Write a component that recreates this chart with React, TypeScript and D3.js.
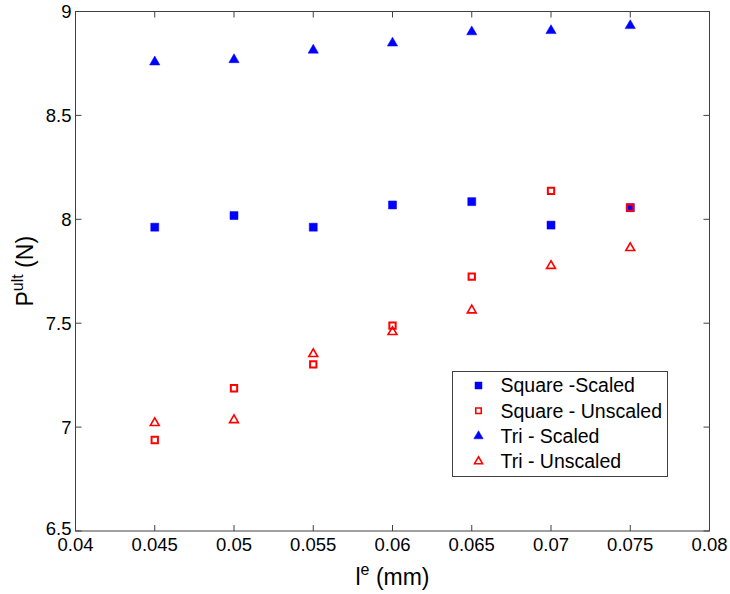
import React, { useEffect, useRef } from "react";
import * as d3 from "d3";

const lengths = [0.045, 0.05, 0.055, 0.06, 0.065, 0.07, 0.075];
const squareScaled = [7.962, 8.018, 7.962, 8.069, 8.085, 7.972, 8.056];
const squareUnscaled = [6.938, 7.187, 7.302, 7.488, 7.724, 8.137, 8.056];
const triScaled = [8.757, 8.768, 8.814, 8.848, 8.902, 8.908, 8.932];
const triUnscaled = [7.02, 7.034, 7.352, 7.458, 7.562, 7.776, 7.862];

const xTicks = [0.04, 0.045, 0.05, 0.055, 0.06, 0.065, 0.07, 0.075, 0.08];
const yTicks = [6.5, 7, 7.5, 8, 8.5, 9];

const legendItems = [
  { label: "Square -Scaled", shape: "square", color: "#0000ff", filled: true },
  { label: "Square - Unscaled", shape: "square", color: "#ff0000", filled: false },
  { label: "Tri - Scaled", shape: "tri", color: "#0000ff", filled: true },
  { label: "Tri - Unscaled", shape: "tri", color: "#ff0000", filled: false },
];

export default function App() {
  const ref = useRef<SVGSVGElement>(null);

  useEffect(() => {
    const svg = d3.select(ref.current);
    svg.selectAll("*").remove();

    const width = 730;
    const height = 594;
    const margin = { top: 11.5, right: 20.5, bottom: 63, left: 75.5 };
    const font = "Arial, 'Liberation Sans', sans-serif";

    const x = d3.scaleLinear()
      .domain([0.04, 0.08])
      .range([margin.left, width - margin.right]);
    const y = d3.scaleLinear()
      .domain([6.5, 9])
      .range([height - margin.bottom, margin.top]);

    svg.append("rect")
      .attr("width", width)
      .attr("height", height)
      .attr("fill", "white");

    // frame
    svg.append("rect")
      .attr("x", margin.left)
      .attr("y", margin.top)
      .attr("width", width - margin.right - margin.left)
      .attr("height", height - margin.bottom - margin.top)
      .attr("fill", "none")
      .attr("stroke", "#404040")
      .attr("stroke-width", 1);

    // ticks, pointing inward on all four sides
    const tl = 6;
    const g = svg.append("g").attr("stroke", "#404040").attr("stroke-width", 1);
    xTicks.forEach(t => {
      g.append("line").attr("x1", x(t)).attr("x2", x(t))
        .attr("y1", y(6.5)).attr("y2", y(6.5) - tl);
      g.append("line").attr("x1", x(t)).attr("x2", x(t))
        .attr("y1", y(9)).attr("y2", y(9) + tl);
    });
    yTicks.forEach(t => {
      g.append("line").attr("x1", x(0.04)).attr("x2", x(0.04) + tl)
        .attr("y1", y(t)).attr("y2", y(t));
      g.append("line").attr("x1", x(0.08)).attr("x2", x(0.08) - tl)
        .attr("y1", y(t)).attr("y2", y(t));
    });

    // tick labels
    svg.append("g").selectAll("text")
      .data(xTicks)
      .enter()
      .append("text")
      .attr("x", d => x(d))
      .attr("y", y(6.5) + 20)
      .attr("text-anchor", "middle")
      .attr("font-family", font)
      .attr("font-size", 18.5)
      .text(d => String(+d.toFixed(3)));

    svg.append("g").selectAll("text")
      .data(yTicks)
      .enter()
      .append("text")
      .attr("x", x(0.04) - 4)
      .attr("y", d => y(d) - (d === 6.5 ? 2 : 0))
      .attr("dy", "0.35em")
      .attr("text-anchor", "end")
      .attr("font-family", font)
      .attr("font-size", 18.5)
      .text(d => String(d));

    // axis labels
    const xl = svg.append("text")
      .attr("x", (x(0.04) + x(0.08)) / 2)
      .attr("y", 585)
      .attr("text-anchor", "middle")
      .attr("font-family", font)
      .attr("font-size", 23);
    xl.append("tspan").text("l");
    xl.append("tspan").attr("dy", -10).attr("font-size", 16).text("e");
    xl.append("tspan").attr("dy", 10).text(" (mm)");

    const yl = svg.append("text")
      .attr("transform", `translate(33,${(y(6.5) + y(9)) / 2}) rotate(-90)`)
      .attr("text-anchor", "middle")
      .attr("font-family", font)
      .attr("font-size", 23);
    yl.append("tspan").text("P");
    yl.append("tspan").attr("dy", -10).attr("font-size", 16).text("ult");
    yl.append("tspan").attr("dy", 10).text(" (N)");

    const sq = d3.symbol().type(d3.symbolSquare);
    const tri = d3.symbol().type(d3.symbolTriangle);

    const drawSeries = (vals: number[], shape: string, color: string, filled: boolean) => {
      const gen = shape === "square" ? sq.size(filled ? 64 : 40) : tri.size(filled ? 46 : 34);
      svg.append("g").selectAll("path")
        .data(vals)
        .enter()
        .append("path")
        .attr("transform", (d, i) => `translate(${x(lengths[i])},${y(d)})`)
        .attr("d", gen() as string)
        .attr("fill", filled ? color : "none")
        .attr("stroke", color)
        .attr("stroke-width", filled ? 0.5 : shape === "square" ? 2 : 1.6);
    };

    drawSeries(squareScaled, "square", "#0000ff", true);
    drawSeries(squareUnscaled, "square", "#ff0000", false);
    drawSeries(triScaled, "tri", "#0000ff", true);
    drawSeries(triUnscaled, "tri", "#ff0000", false);

    // legend
    const lx = 452.5, ly = 371.5, lw = 215, lh = 105;
    svg.append("rect")
      .attr("x", lx).attr("y", ly).attr("width", lw).attr("height", lh)
      .attr("fill", "white").attr("stroke", "#404040").attr("stroke-width", 1);

    legendItems.forEach((item, i) => {
      const cy = ly + 14 + i * 25.3;
      const gen = item.shape === "square" ? sq.size(item.filled ? 49 : 30) : tri.size(item.filled ? 38 : 28);
      svg.append("path")
        .attr("transform", `translate(${lx + 26},${cy})`)
        .attr("d", gen() as string)
        .attr("fill", item.filled ? item.color : "none")
        .attr("stroke", item.color)
        .attr("stroke-width", item.filled ? 0.5 : 1.6);
      svg.append("text")
        .attr("x", lx + 48)
        .attr("y", cy)
        .attr("dy", "0.35em")
        .attr("font-family", font)
        .attr("font-size", 19.5)
        .text(item.label);
    });
  }, []);

  return (
    <svg
      ref={ref}
      width={730}
      height={594}
      style={{ position: "absolute", left: 0, top: 0 }}
    />
  );
}
